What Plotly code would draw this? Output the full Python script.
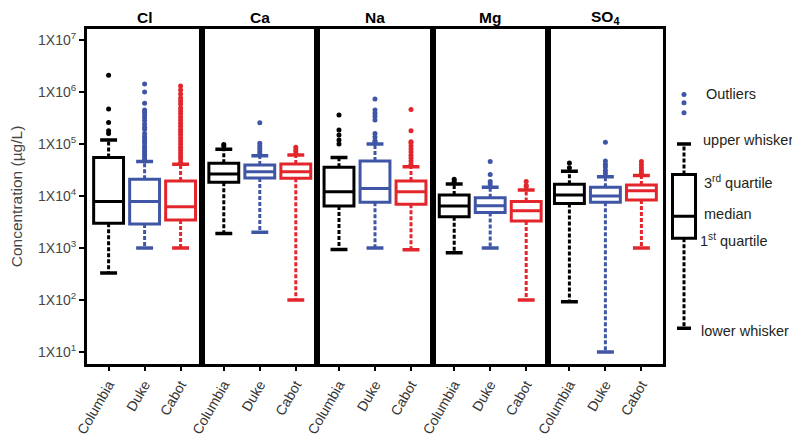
import math
import plotly.graph_objects as go

# ---------------- data (µg/L) ----------------
ions = ["Cl", "Ca", "Na", "Mg", "SO<sub>4</sub>"]
sites = ["Columbia", "Duke", "Cabot"]
site_colors = ["#000000", "#3F56A6", "#E3262B"]

# rows: ions, columns: sites (Columbia, Duke, Cabot)
lower_whisker = [
    [330, 1000, 1000],
    [1900, 2000, 100],
    [940, 1000, 920],
    [810, 1000, 100],
    [93, 10, 1000],
]
q1 = [
    [3000, 2900, 3450],
    [18300, 22200, 21900],
    [6400, 7550, 6900],
    [4000, 4800, 3300],
    [7200, 7600, 8400],
]
median = [
    [7800, 7800, 6200],
    [26500, 29400, 29400],
    [12100, 14000, 12100],
    [6400, 6500, 5200],
    [10400, 10000, 12600],
]
q3 = [
    [55000, 21000, 19400],
    [42600, 39400, 41200],
    [35600, 47000, 19400],
    [10400, 9300, 7800],
    [16800, 14700, 16300],
]
upper_whisker = [
    [120000, 46000, 41000],
    [79000, 59600, 61400],
    [55000, 100000, 36600],
    [17000, 14700, 13000],
    [30000, 23500, 24700],
]
outliers = [
    [  # Cl
        [2.1e6, 4.7e5, 2.6e5, 1.8e5, 1.6e5],
        [1.43e6, 1.0e6, 6.1e5, 4.5e5, 4.1e5, 3.6e5, 3.2e5, 2.8e5, 2.4e5, 2.1e5,
         1.9e5, 1.6e5, 1.4e5, 1.25e5, 1.14e5, 1.05e5, 9.2e4, 8.4e4, 7.7e4, 7.0e4,
         6.4e4, 5.9e4, 5.4e4, 5.0e4],
        [1.3e6, 1.09e6, 9.2e5, 7.7e5, 6.7e5, 5.9e5, 4.9e5, 4.3e5, 3.8e5, 3.3e5,
         2.9e5, 2.5e5, 2.2e5, 1.9e5, 1.7e5, 1.5e5, 1.3e5, 1.14e5, 1.0e5, 8.7e4,
         7.7e4, 6.7e4, 5.9e4, 5.2e4, 4.5e4],
    ],
    [  # Ca
        [9.8e4, 9.1e4],
        [2.57e5, 1.03e5, 9.2e4, 8.3e4, 7.3e4, 6.6e4],
        [8.7e4, 7.7e4, 7.0e4],
    ],
    [  # Na
        [3.6e5, 1.86e5, 1.49e5, 1.19e5, 1.0e5],
        [7.3e5, 4.5e5, 3.9e5, 3.4e5, 2.9e5, 1.6e5, 1.37e5, 1.16e5, 1.1e5],
        [4.6e5, 1.8e5, 1.1e5, 1.05e5, 9.2e4, 8.0e4, 7.0e4, 6.1e4, 5.4e4, 4.7e4, 4.1e4],
    ],
    [  # Mg
        [2.1e4, 1.9e4],
        [4.6e4, 2.6e4, 1.9e4, 1.7e4],
        [1.9e4, 1.6e4, 1.5e4],
    ],
    [  # SO4
        [4.3e4, 3.5e4],
        [1.08e5, 4.7e4, 4.1e4, 3.6e4, 3.1e4, 2.7e4],
        [4.6e4, 4.0e4, 3.5e4, 3.1e4, 2.75e4],
    ],
]

# explanatory key box
key_stats = {"lower": 28.6, "q1": 1540, "median": 4100, "q3": 26000, "upper": 100000}
key_outliers = [9.0e5, 6.2e5, 4.0e5]
key_labels = ["Outliers", "upper whisker", "3<sup>rd</sup> quartile", "median",
              "1<sup>st</sup> quartile", "lower whisker"]
key_label_values = [9.0e5, 1.2e5, 1.9e4, 4.6e3, 1.40e3, 25]

y_tick_vals = [1e1, 1e2, 1e3, 1e4, 1e5, 1e6, 1e7]
y_tick_text = ["1X10<sup>%d</sup>" % i for i in range(1, 8)]

# ---------------- layout geometry ----------------
# the page body adds an 8px margin, so the figure is 8px smaller
W, H = 792, 432
ML, MR, MT, MB = 79, 96, 21, 76
paper_w = W - ML - MR
panel_px = 115.2
pw = panel_px / paper_w
y_range = [0.769, 7.2115]

BOX_W = 0.83
CAP_HALF = 0.235
LW = 3
DASH = "4px,2px"
FONT = "Liberation Sans, Arial, sans-serif"

fig = go.Figure()
layout = {}


def add_group(xa, ya, x, lo, a, m, b, hi, pts, color, box_w, cap_half, pt_color=None):
    fig.add_trace(go.Box(
        x=[x], q1=[a], median=[m], q3=[b], lowerfence=[a], upperfence=[b],
        width=box_w, fillcolor="white", line=dict(color=color, width=LW),
        boxpoints=False, whiskerwidth=0, xaxis=xa, yaxis=ya, showlegend=False,
        hoverinfo="skip"))
    fig.add_trace(go.Scatter(
        x=[x, x, None, x, x], y=[b, hi, None, a, lo], mode="lines",
        line=dict(color=color, width=LW, dash=DASH), xaxis=xa, yaxis=ya,
        showlegend=False, hoverinfo="skip"))
    fig.add_trace(go.Scatter(
        x=[x - cap_half, x + cap_half, None, x - cap_half, x + cap_half],
        y=[hi, hi, None, lo, lo], mode="lines",
        line=dict(color=color, width=3.5), xaxis=xa, yaxis=ya,
        showlegend=False, hoverinfo="skip"))
    if pts:
        fig.add_trace(go.Scatter(
            x=[x] * len(pts), y=pts, mode="markers",
            marker=dict(color=pt_color or color, size=5, line=dict(width=0)),
            xaxis=xa, yaxis=ya, showlegend=False, hoverinfo="skip"))


annotations = []
for i, ion in enumerate(ions):
    n = "" if i == 0 else str(i + 1)
    xa, ya = "x" + n, "y" + n
    for j, site in enumerate(sites):
        add_group(xa, ya, j, lower_whisker[i][j], q1[i][j], median[i][j], q3[i][j],
                  upper_whisker[i][j], outliers[i][j], site_colors[j], BOX_W, CAP_HALF)
    layout["xaxis" + n] = dict(
        domain=[i * pw, (i + 1) * pw], range=[-0.6, 2.6], anchor=ya,
        tickmode="array", tickvals=[0, 1, 2], ticktext=sites, tickangle=-60,
        ticks="outside", ticklen=4, tickwidth=2, tickcolor="black",
        tickfont=dict(family=FONT, size=14, color="#333333"),
        showline=True, mirror=True, linewidth=LW, linecolor="black",
        showgrid=False, zeroline=False, fixedrange=True, automargin=False)
    yax = dict(
        type="log", range=y_range, anchor=xa, showline=True, mirror=True,
        linewidth=LW, linecolor="black", showgrid=False, zeroline=False,
        fixedrange=True, automargin=False)
    if i == 0:
        yax.update(tickmode="array", tickvals=y_tick_vals, ticktext=y_tick_text,
                   ticks="outside", ticklen=5, tickwidth=2, tickcolor="black",
                   tickfont=dict(family=FONT, size=14, color="#444444"),
                   title=dict(text="Concentration (µg/L)", standoff=16,
                              font=dict(family=FONT, size=15.5, color="#444444")))
    else:
        yax.update(showticklabels=False, ticks="")
    layout["yaxis" + n] = yax
    annotations.append(dict(
        text="<b>%s</b>" % ion, xref=xa + " domain", x=0.5, yref="paper", y=1,
        yanchor="middle", yshift=12, showarrow=False,
        font=dict(family=FONT, size=15.5, color="black")))

# key subplot
key_left = (664 - 87) / paper_w
layout["xaxis6"] = dict(domain=[key_left, 1.0], range=[-0.5, 0.5], anchor="y6",
                        visible=False, fixedrange=True, automargin=False)
layout["yaxis6"] = dict(type="log", range=y_range, anchor="x6", visible=False,
                        fixedrange=True, automargin=False)
add_group("x6", "y6", 0, key_stats["lower"], key_stats["q1"], key_stats["median"],
          key_stats["q3"], key_stats["upper"], key_outliers, "#000000", 0.575, 0.175,
          pt_color="#3F56A6")

key_shifts = [0, -3, -2, -2, -6, -5]
for lab, val, xs in zip(key_labels, key_label_values, key_shifts):
    annotations.append(dict(
        text=lab, xref="x6", x=0.5, xanchor="left", xshift=xs,
        yref="y6", y=math.log10(val), yanchor="middle", showarrow=False,
        font=dict(family=FONT, size=14.5, color="#231F20")))

fig.update_layout(
    width=W, height=H, margin=dict(l=ML, r=MR, t=MT, b=MB, autoexpand=False),
    paper_bgcolor="white", plot_bgcolor="white", showlegend=False,
    annotations=annotations, **layout)

fig.write_html("out.html")
